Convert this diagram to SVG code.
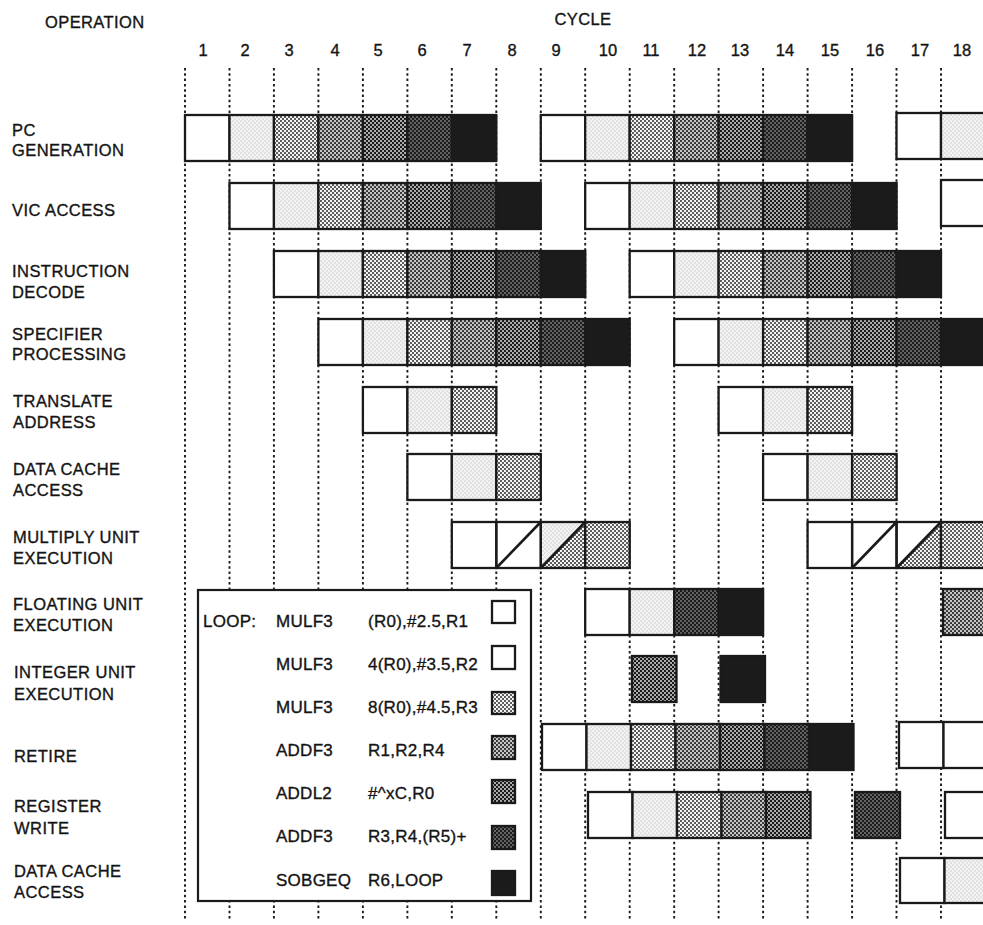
<svg xmlns="http://www.w3.org/2000/svg" width="983" height="925" viewBox="0 0 983 925">
<style>
text{font-family:"Liberation Sans",Arial,Helvetica,sans-serif;fill:#141414;stroke:#141414;stroke-width:0.35px}
.hd{font-size:16.5px;letter-spacing:0.4px}
.num{font-size:16.5px;text-anchor:middle}
.lb{font-size:16.5px;letter-spacing:0.45px}
.lg{font-size:17px;letter-spacing:0.25px}
.grid line{stroke:#1a1a1a;stroke-width:1.9;stroke-dasharray:2.5 2.8}
.c{stroke:#1a1a1a;stroke-width:2.3}
.g0{fill:#ffffff}
.g1{fill:url(#p1)}
.g2{fill:url(#p2)}
.g3{fill:url(#p3)}
.g4{fill:url(#p4)}
.g5{fill:url(#p5)}
.g6{fill:#1b1b1b}
.dg{stroke:#1a1a1a;stroke-width:2.6}
</style>
<defs>
<pattern id="p1" width="4" height="4" patternUnits="userSpaceOnUse"><rect width="4" height="4" fill="#f3f3f3"/><circle cx="1" cy="1" r="0.7" fill="#c2c2c2"/><circle cx="3" cy="3" r="0.7" fill="#c2c2c2"/></pattern>
<pattern id="p2" width="4" height="4" patternUnits="userSpaceOnUse"><rect width="4" height="4" fill="#f4f4f4"/><circle cx="1" cy="1" r="1.0" fill="#2a2a2a"/><circle cx="3" cy="3" r="1.0" fill="#2a2a2a"/></pattern>
<pattern id="p3" width="4" height="4" patternUnits="userSpaceOnUse"><rect width="4" height="4" fill="#c6c6c6"/><circle cx="1" cy="1" r="1.05" fill="#262626"/><circle cx="3" cy="3" r="1.05" fill="#262626"/></pattern>
<pattern id="p4" width="4" height="4" patternUnits="userSpaceOnUse"><rect width="4" height="4" fill="#1c1c1c"/><circle cx="1" cy="1" r="0.9" fill="#eeeeee"/><circle cx="3" cy="3" r="0.9" fill="#eeeeee"/></pattern>
<pattern id="p5" width="4" height="4" patternUnits="userSpaceOnUse"><rect width="4" height="4" fill="#1c1c1c"/><circle cx="1" cy="1" r="0.8" fill="#bdbdbd"/><circle cx="3" cy="3" r="0.8" fill="#bdbdbd"/></pattern>
</defs>
<rect width="983" height="925" fill="#ffffff"/>

<g id="header">
<text class="hd" x="45" y="28">OPERATION</text>
<text class="hd" x="583" y="25" text-anchor="middle">CYCLE</text>
<text class="num" x="203" y="56">1</text>
<text class="num" x="245" y="56">2</text>
<text class="num" x="289" y="56">3</text>
<text class="num" x="335" y="56">4</text>
<text class="num" x="378" y="56">5</text>
<text class="num" x="422" y="56">6</text>
<text class="num" x="467" y="56">7</text>
<text class="num" x="512" y="56">8</text>
<text class="num" x="556" y="56">9</text>
<text class="num" x="608" y="56">10</text>
<text class="num" x="651" y="56">11</text>
<text class="num" x="697" y="56">12</text>
<text class="num" x="740" y="56">13</text>
<text class="num" x="785" y="56">14</text>
<text class="num" x="830" y="56">15</text>
<text class="num" x="875" y="56">16</text>
<text class="num" x="920" y="56">17</text>
<text class="num" x="962" y="56">18</text>
</g>

<g id="connectors" class="grid">
<line x1="185" y1="68" x2="185" y2="921"/>
<line x1="229.5" y1="68" x2="229.5" y2="921"/>
<line x1="273.9" y1="68" x2="273.9" y2="921"/>
<line x1="318.4" y1="68" x2="318.4" y2="921"/>
<line x1="362.9" y1="68" x2="362.9" y2="921"/>
<line x1="407.4" y1="68" x2="407.4" y2="921"/>
<line x1="451.8" y1="68" x2="451.8" y2="921"/>
<line x1="496.3" y1="68" x2="496.3" y2="921"/>
<line x1="540.8" y1="68" x2="540.8" y2="921"/>
<line x1="585.2" y1="68" x2="585.2" y2="921"/>
<line x1="629.7" y1="68" x2="629.7" y2="921"/>
<line x1="674.2" y1="68" x2="674.2" y2="921"/>
<line x1="718.6" y1="68" x2="718.6" y2="921"/>
<line x1="763.1" y1="68" x2="763.1" y2="921"/>
<line x1="807.6" y1="68" x2="807.6" y2="921"/>
<line x1="852.1" y1="68" x2="852.1" y2="921"/>
<line x1="896.5" y1="68" x2="896.5" y2="921"/>
<line x1="941" y1="68" x2="941" y2="921"/>
</g>

<g id="row-pc-generation">
<text class="lb" x="12" y="136">PC</text>
<text class="lb" x="12" y="156">GENERATION</text>
<g class="c">
<rect class="g0" x="185" y="115" width="44.5" height="46"/>
<rect class="g1" x="229.5" y="115" width="44.5" height="46"/>
<rect class="g2" x="273.9" y="115" width="44.5" height="46"/>
<rect class="g3" x="318.4" y="115" width="44.5" height="46"/>
<rect class="g4" x="362.9" y="115" width="44.5" height="46"/>
<rect class="g5" x="407.4" y="115" width="44.5" height="46"/>
<rect class="g6" x="451.8" y="115" width="44.5" height="46"/>
<rect class="g0" x="540.8" y="115" width="44.5" height="46"/>
<rect class="g1" x="585.2" y="115" width="44.5" height="46"/>
<rect class="g2" x="629.7" y="115" width="44.5" height="46"/>
<rect class="g3" x="674.2" y="115" width="44.5" height="46"/>
<rect class="g4" x="718.6" y="115" width="44.5" height="46"/>
<rect class="g5" x="763.1" y="115" width="44.5" height="46"/>
<rect class="g6" x="807.6" y="115" width="44.5" height="46"/>
<rect class="g0" x="896.5" y="113" width="44.5" height="46"/>
<rect class="g1" x="941" y="113" width="44.5" height="46"/>
</g>
</g>

<g id="row-vic-access">
<text class="lb" x="12" y="216">VIC ACCESS</text>
<g class="c">
<rect class="g0" x="229.5" y="183" width="44.5" height="46"/>
<rect class="g1" x="273.9" y="183" width="44.5" height="46"/>
<rect class="g2" x="318.4" y="183" width="44.5" height="46"/>
<rect class="g3" x="362.9" y="183" width="44.5" height="46"/>
<rect class="g4" x="407.4" y="183" width="44.5" height="46"/>
<rect class="g5" x="451.8" y="183" width="44.5" height="46"/>
<rect class="g6" x="496.3" y="183" width="44.5" height="46"/>
<rect class="g0" x="585.2" y="183" width="44.5" height="46"/>
<rect class="g1" x="629.7" y="183" width="44.5" height="46"/>
<rect class="g2" x="674.2" y="183" width="44.5" height="46"/>
<rect class="g3" x="718.6" y="183" width="44.5" height="46"/>
<rect class="g4" x="763.1" y="183" width="44.5" height="46"/>
<rect class="g5" x="807.6" y="183" width="44.5" height="46"/>
<rect class="g6" x="852.1" y="183" width="44.5" height="46"/>
<rect class="g0" x="941" y="180" width="44.5" height="46"/>
</g>
</g>

<g id="row-instruction-decode">
<text class="lb" x="12" y="277">INSTRUCTION</text>
<text class="lb" x="12" y="298">DECODE</text>
<g class="c">
<rect class="g0" x="273.9" y="251" width="44.5" height="46"/>
<rect class="g1" x="318.4" y="251" width="44.5" height="46"/>
<rect class="g2" x="362.9" y="251" width="44.5" height="46"/>
<rect class="g3" x="407.4" y="251" width="44.5" height="46"/>
<rect class="g4" x="451.8" y="251" width="44.5" height="46"/>
<rect class="g5" x="496.3" y="251" width="44.5" height="46"/>
<rect class="g6" x="540.8" y="251" width="44.5" height="46"/>
<rect class="g0" x="629.7" y="251" width="44.5" height="46"/>
<rect class="g1" x="674.2" y="251" width="44.5" height="46"/>
<rect class="g2" x="718.6" y="251" width="44.5" height="46"/>
<rect class="g3" x="763.1" y="251" width="44.5" height="46"/>
<rect class="g4" x="807.6" y="251" width="44.5" height="46"/>
<rect class="g5" x="852.1" y="251" width="44.5" height="46"/>
<rect class="g6" x="896.5" y="251" width="44.5" height="46"/>
</g>
</g>

<g id="row-specifier-processing">
<text class="lb" x="12" y="340">SPECIFIER</text>
<text class="lb" x="12" y="360">PROCESSING</text>
<g class="c">
<rect class="g0" x="318.4" y="319" width="44.5" height="46"/>
<rect class="g1" x="362.9" y="319" width="44.5" height="46"/>
<rect class="g2" x="407.4" y="319" width="44.5" height="46"/>
<rect class="g3" x="451.8" y="319" width="44.5" height="46"/>
<rect class="g4" x="496.3" y="319" width="44.5" height="46"/>
<rect class="g5" x="540.8" y="319" width="44.5" height="46"/>
<rect class="g6" x="585.2" y="319" width="44.5" height="46"/>
<rect class="g0" x="674.2" y="319" width="44.5" height="46"/>
<rect class="g1" x="718.6" y="319" width="44.5" height="46"/>
<rect class="g2" x="763.1" y="319" width="44.5" height="46"/>
<rect class="g3" x="807.6" y="319" width="44.5" height="46"/>
<rect class="g4" x="852.1" y="319" width="44.5" height="46"/>
<rect class="g5" x="896.5" y="319" width="44.5" height="46"/>
<rect class="g6" x="941" y="319" width="44.5" height="46"/>
</g>
</g>

<g id="row-translate-address">
<text class="lb" x="13" y="407">TRANSLATE</text>
<text class="lb" x="13" y="428">ADDRESS</text>
<g class="c">
<rect class="g0" x="362.9" y="387" width="44.5" height="46"/>
<rect class="g1" x="407.4" y="387" width="44.5" height="46"/>
<rect class="g2" x="451.8" y="387" width="44.5" height="46"/>
<rect class="g0" x="718.6" y="387" width="44.5" height="46"/>
<rect class="g1" x="763.1" y="387" width="44.5" height="46"/>
<rect class="g2" x="807.6" y="387" width="44.5" height="46"/>
</g>
</g>

<g id="row-data-cache-access-1">
<text class="lb" x="13" y="475">DATA CACHE</text>
<text class="lb" x="13" y="496">ACCESS</text>
<g class="c">
<rect class="g0" x="407.4" y="454" width="44.5" height="46"/>
<rect class="g1" x="451.8" y="454" width="44.5" height="46"/>
<rect class="g2" x="496.3" y="454" width="44.5" height="46"/>
<rect class="g0" x="763.1" y="454" width="44.5" height="46"/>
<rect class="g1" x="807.6" y="454" width="44.5" height="46"/>
<rect class="g2" x="852.1" y="454" width="44.5" height="46"/>
</g>
</g>

<g id="row-multiply-unit">
<text class="lb" x="13" y="543">MULTIPLY UNIT</text>
<text class="lb" x="13" y="564">EXECUTION</text>
<polygon class="g0" points="496.3,522 540.8,522 496.3,568"/>
<polygon class="g0" points="540.8,522 540.8,568 496.3,568"/>
<polygon class="g1" points="540.8,522 585.2,522 540.8,568"/>
<polygon class="g2" points="585.2,522 585.2,568 540.8,568"/>
<polygon class="g0" points="852.1,522 896.5,522 852.1,568"/>
<polygon class="g0" points="896.5,522 896.5,568 852.1,568"/>
<polygon class="g0" points="896.5,522 941,522 896.5,568"/>
<polygon class="g2" points="941,522 941,568 896.5,568"/>
<line class="dg" x1="496.3" y1="568" x2="540.8" y2="522"/>
<line class="dg" x1="540.8" y1="568" x2="585.2" y2="522"/>
<line class="dg" x1="852.1" y1="568" x2="896.5" y2="522"/>
<line class="dg" x1="896.5" y1="568" x2="941" y2="522"/>
<g class="c">
<rect class="g0" x="451.8" y="522" width="44.5" height="46"/>
<rect fill="none" x="496.3" y="522" width="44.5" height="46"/>
<rect fill="none" x="540.8" y="522" width="44.5" height="46"/>
<rect class="g2" x="585.2" y="522" width="44.5" height="46"/>
<rect class="g0" x="807.6" y="522" width="44.5" height="46"/>
<rect fill="none" x="852.1" y="522" width="44.5" height="46"/>
<rect fill="none" x="896.5" y="522" width="44.5" height="46"/>
<rect class="g2" x="941" y="522" width="44.5" height="46"/>
</g>
</g>

<g id="row-floating-unit">
<text class="lb" x="13" y="610">FLOATING UNIT</text>
<text class="lb" x="13" y="631">EXECUTION</text>
<g class="c">
<rect class="g0" x="585.2" y="589" width="44.5" height="46"/>
<rect class="g1" x="629.7" y="589" width="44.5" height="46"/>
<rect class="g5" x="674.2" y="589" width="44.5" height="46"/>
<rect class="g6" x="718.6" y="589" width="44.5" height="46"/>
<rect class="g3" x="943" y="589" width="44.5" height="46"/>
</g>
</g>

<g id="row-integer-unit">
<text class="lb" x="14" y="678">INTEGER UNIT</text>
<text class="lb" x="14" y="700">EXECUTION</text>
<g class="c">
<rect class="g4" x="632" y="656" width="44.5" height="46"/>
<rect class="g6" x="720.5" y="656" width="44.5" height="46"/>
</g>
</g>

<g id="row-retire">
<text class="lb" x="14" y="762">RETIRE</text>
<g class="c">
<rect class="g0" x="542" y="724" width="44.5" height="46"/>
<rect class="g1" x="586.5" y="724" width="44.5" height="46"/>
<rect class="g2" x="631" y="724" width="44.5" height="46"/>
<rect class="g3" x="675.5" y="724" width="44.5" height="46"/>
<rect class="g4" x="720" y="724" width="44.5" height="46"/>
<rect class="g5" x="764.5" y="724" width="44.5" height="46"/>
<rect class="g6" x="809" y="724" width="44.5" height="46"/>
<rect class="g0" x="899" y="722" width="44.5" height="46"/>
<rect class="g0" x="943.5" y="722" width="44.5" height="46"/>
</g>
</g>

<g id="row-register-write">
<text class="lb" x="14" y="812">REGISTER</text>
<text class="lb" x="14" y="834">WRITE</text>
<g class="c">
<rect class="g0" x="588" y="792" width="44.5" height="46"/>
<rect class="g1" x="632.5" y="792" width="44.5" height="46"/>
<rect class="g2" x="677" y="792" width="44.5" height="46"/>
<rect class="g3" x="721.5" y="792" width="44.5" height="46"/>
<rect class="g4" x="766" y="792" width="44.5" height="46"/>
<rect class="g5" x="855" y="792" width="45" height="46"/>
<rect class="g0" x="945" y="792" width="44.5" height="46"/>
</g>
</g>

<g id="row-data-cache-access-2">
<text class="lb" x="14" y="877">DATA CACHE</text>
<text class="lb" x="14" y="898">ACCESS</text>
<g class="c">
<rect class="g0" x="900" y="858" width="44.5" height="45"/>
<rect class="g1" x="944.5" y="858" width="44.5" height="45"/>
</g>
</g>

<g id="legend">
<rect x="198" y="590" width="333" height="311" fill="#ffffff" stroke="#1a1a1a" stroke-width="2.2"/>
<text class="lg" x="203" y="627">LOOP:</text>
<text class="lg" x="276" y="627">MULF3</text>
<text class="lg" x="368" y="627">(R0),#2.5,R1</text>
<text class="lg" x="276" y="670">MULF3</text>
<text class="lg" x="368" y="670">4(R0),#3.5,R2</text>
<text class="lg" x="276" y="713">MULF3</text>
<text class="lg" x="368" y="713">8(R0),#4.5,R3</text>
<text class="lg" x="276" y="756">ADDF3</text>
<text class="lg" x="368" y="756">R1,R2,R4</text>
<text class="lg" x="276" y="799">ADDL2</text>
<text class="lg" x="368" y="799">#^xC,R0</text>
<text class="lg" x="276" y="842">ADDF3</text>
<text class="lg" x="368" y="842">R3,R4,(R5)+</text>
<text class="lg" x="276" y="886">SOBGEQ</text>
<text class="lg" x="368" y="886">R6,LOOP</text>
<g class="c">
<rect class="g0" x="492" y="601" width="23" height="22"/>
<rect class="g0" x="492" y="646" width="23" height="23"/>
<rect class="g2" x="492" y="692" width="23" height="22"/>
<rect class="g3" x="492" y="736" width="23" height="23"/>
<rect class="g4" x="492" y="780" width="23" height="23"/>
<rect class="g5" x="492" y="826" width="23" height="23"/>
<rect class="g6" x="492" y="871" width="23" height="24"/>
</g>
</g>
</svg>
